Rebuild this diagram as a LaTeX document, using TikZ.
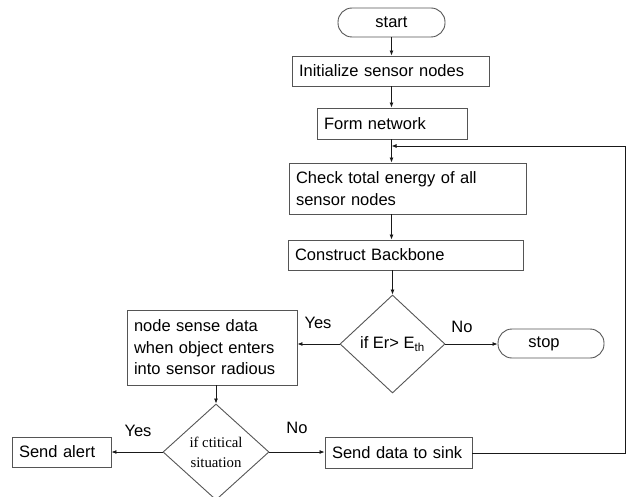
\documentclass[tikz,border=0pt]{standalone}
\usepackage{fontspec}
\setmainfont{Liberation Sans}
\newfontfamily\timesfont{Liberation Serif}
\usetikzlibrary{shapes.geometric, arrows.meta, positioning}
\definecolor{edge}{RGB}{85, 85, 85}
\definecolor{ink}{RGB}{25, 25, 25}

\begin{document}
\begin{tikzpicture}[
            x=1pt, y=-1pt,
            box/.style={draw=edge, line width=0.9pt, inner xsep=7pt, inner ysep=0pt, align=left, font=\fontsize{16.5}{21.5}\selectfont},
            term/.style={draw=edge, line width=0.9pt, rounded corners=14pt, minimum width=107pt, minimum height=29pt, font=\fontsize{16.5}{20}\selectfont},
            decision/.style={diamond, draw=edge, line width=0.9pt, inner sep=0pt, align=center},
            lbl/.style={font=\fontsize{16.5}{20}\selectfont},
            arrow/.style={-{Latex[length=5pt, width=4pt]}, line width=0.8pt, ink}
        ]
            \useasboundingbox (0,0) rectangle (628,497);
            \clip (0,0) rectangle (628,497);

            \node[term] (start) at (391.5,22.5) {start};
            \node[box, text width=183pt, minimum height=30pt] (init) at (390.5,71) {Initialize sensor nodes};
            \node[box, text width=136pt, minimum height=31pt] (form) at (392,123.5) {Form network};
            \node[box, text width=223pt, minimum height=51pt] (check) at (407.5,188.5) {Check total energy of all\\sensor nodes};
            \node[box, text width=221pt, minimum height=30pt] (backbone) at (405.5,255) {Construct Backbone};
            \node[decision, minimum width=105pt, minimum height=98pt, font=\fontsize{16.5}{20}\selectfont] (energy) at (392.5,344) {if Er> E\textsubscript{th}};
            \node[term, minimum width=106pt] (stop) at (551,343.5) {\hspace*{-14pt}stop};
            \node[box, text width=156pt, minimum height=75pt] (sense) at (212,347.5) {node sense data\\when object enters\\into sensor radious};
            \node[decision, minimum width=106pt, minimum height=96pt, font=\timesfont\fontsize{14.8}{20}\selectfont] (critical) at (216,452) {if ctitical\\situation};
            \node[box, text width=85pt, minimum height=30pt] (alert) at (61.5,452) {Send alert};
            \node[box, text width=133pt, minimum height=31pt] (sink) at (398.5,453) {Send data to sink};

            \node[lbl] (yes1) at (318,323) {Yes};
            \node[lbl] (no1) at (462,327) {No};
            \node[lbl] (yes2) at (138,431) {Yes};
            \node[lbl] (no2) at (297,428) {No};

            \coordinate (rim) at (625,146);

            \draw[arrow] (start.south) -- (start.south |- init.north);
            \draw[arrow] (init.south -| start) -- (form.north -| start);
            \draw[arrow] (form.south -| start) -- (check.north -| start);
            \draw[arrow] (check.south -| start) -- (backbone.north -| start);
            \draw[arrow] (backbone.south -| energy) -- (energy.north);
            \draw[arrow] (energy.east) -- (stop.west |- energy.east);
            \draw[arrow] (energy.west) -- (sense.east |- energy.west);
            \draw[arrow] (sense.south -| critical) -- (critical.north);
            \draw[arrow] (critical.west) -- (alert.east |- critical.west);
            \draw[arrow] (critical.east) -- (sink.west |- critical.east);
            \draw[arrow] (sink.east) -| (rim) -- (rim -| start);
        \end{tikzpicture}
\end{document}
